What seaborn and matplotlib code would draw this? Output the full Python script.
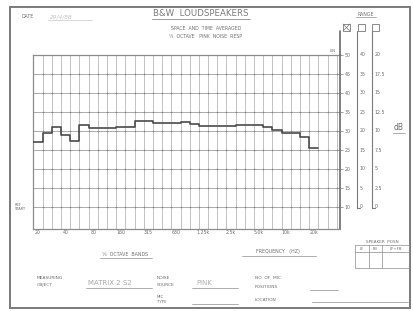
import matplotlib
matplotlib.use("Agg")
import numpy as np
import pandas as pd
import seaborn as sns
import matplotlib.pyplot as plt
import matplotlib.transforms as mtrans
from matplotlib.lines import Line2D
from matplotlib.patches import Rectangle

# ---------------- data ----------------
# one-third octave band levels (dB, read on the 50 dB range), 20 Hz ... 20 kHz
levels = [27.1, 29.4, 31.0, 28.9, 27.4, 31.7, 30.9, 30.9, 30.9, 31.1, 31.1,
          32.7, 32.7, 32.0, 32.0, 32.0, 32.4, 31.8, 31.3, 31.2, 31.2, 31.2,
          31.6, 31.6, 31.6, 31.0, 30.3, 29.6, 29.6, 28.5, 25.4]
n_cells = 33  # printed band columns on the sheet
freq_ticks = [0, 3, 6, 9, 12, 15, 18, 21, 24, 27, 30]
freq_labels = ['20', '40', '80', '160', '315', '630', '1.25k', '2.5k', '5.0k', '10k', '20k']
range50 = [50, 45, 40, 35, 30, 25, 20, 15, 10]
range40 = ['40', '35', '30', '25', '20', '15', '10', '5', '0']
range20 = ['20', '17.5', '15', '12.5', '10', '7.5', '5', '2.5', '0']

W, H = 414, 311
sns.set_style("white")
plt.rcParams['font.family'] = ['DejaVu Sans']
fig = plt.figure(figsize=(W / 100, H / 100), dpi=100)

INK = '#6e6e6e'
GRID = '#b8b8b8'


def fx(x):
    return x / W


def fy(y):
    return 1 - y / H


def txt(x, y, s, size=3.6, color=INK, **kw):
    fig.text(fx(x), fy(y), s, fontsize=size, color=color, va='center', **kw)


def line(xs, ys, lw=0.6, color='#8c8c8c'):
    fig.add_artist(Line2D([fx(v) for v in xs], [fy(v) for v in ys], lw=lw, color=color))


# page frame
fig.add_artist(Rectangle((fx(10), fy(308)), fx(400), (308 - 7) / H, fill=False,
                         lw=1.4, edgecolor='#7a7a7a', transform=fig.transFigure))

# ---------------- main grid axes ----------------
ax_l, ax_r, ax_t, ax_b = 33.5, 340, 55, 229
ax = fig.add_axes([fx(ax_l), fy(ax_b), (ax_r - ax_l) / W, (ax_b - ax_t) / H])
ax.set_facecolor('white')
ax.set_xlim(-0.5, -0.5 + (ax_r - ax_l) / 9.19)
ax.set_ylim(10 - 22 / 3.8, 50)

# vertical band lines and horizontal level lines
ax.vlines(np.arange(n_cells) + 0.5, 10 - 22 / 3.8, 50, color=GRID, lw=0.6, zorder=1)
ax.hlines(range50[1:], -0.5, n_cells, color='#ababab', lw=0.7, zorder=1)
xx, yy = np.meshgrid(np.arange(n_cells) + 0.5, range50[1:])
ax.scatter(xx.ravel(), yy.ravel(), marker='+', s=3, lw=0.5, color='#8a8a8a', zorder=1)

df = pd.DataFrame({'edge': np.arange(len(levels) + 1) - 0.5,
                   'level': levels + [levels[-1]]})
sns.lineplot(data=df, x='edge', y='level', drawstyle='steps-post',
             color='#4a4a4a', lw=1.2, ax=ax, zorder=3)

for s in ax.spines.values():
    s.set_color('#8c8c8c')
    s.set_linewidth(0.9)
ax.spines['right'].set_color('#6a6a6a')
ax.spines['right'].set_linewidth(1.2)

ax.set_xticks(freq_ticks)
ax.set_xticklabels(freq_labels)
ax.set_yticks(range50)
ax.set_yticklabels(range50)
ax.yaxis.tick_right()
ax.tick_params(axis='x', length=0, pad=1, labelsize=3.4, labelcolor=INK)
ax.tick_params(axis='y', length=2, width=0.5, pad=1.5, labelsize=3.4,
               labelcolor=INK, color='#777777', direction='out')
ax.set_xlabel('')
ax.set_ylabel('')

# extra range columns
bt = mtrans.blended_transform_factory(fig.transFigure, ax.transData)
for xcol, labs in ((357, range40), (372, range20)):
    line([xcol, xcol], [31, 208], lw=0.8, color='#7a7a7a')
    line([xcol, xcol + 3], [208, 208], lw=0.8, color='#7a7a7a')
    for v, lab in zip(range50, labs):
        ax.add_artist(Line2D([fx(xcol), fx(xcol + 2)], [v, v], transform=bt,
                             lw=0.5, color='#777777'))
        ax.text(fx(xcol + 2.5), v, lab, transform=bt, fontsize=3.4, color=INK,
                va='center', ha='left')
line([340, 340], [31, 55], lw=1.2, color='#6a6a6a')

# ---------------- sheet texts ----------------
txt(22, 17, 'DATE', 3.4)
txt(50, 17, '29/4/88', 4.2, color='#c4c4c4', style='italic')
line([48, 92], [20, 20], lw=0.5, color='#c8c8c8')

fig.text(fx(201), fy(14), 'B&W  LOUDSPEAKERS', fontsize=6.2, color='#7a7a7a',
         ha='center', va='center')
line([152, 250], [19, 19], lw=0.6)
txt(206, 29, 'SPACE  AND  TIME  AVERAGED', 3.3, ha='center')
txt(206, 37, '⅓  OCTAVE   PINK  NOISE  RESP', 3.3, ha='center')

txt(366, 14, 'RANGE', 3.4, ha='center')
line([356, 376], [17, 17], lw=0.5)
for bx in (343, 358, 372):
    fig.add_artist(Rectangle((fx(bx), fy(31)), 7 / W, 7 / H, fill=False, lw=0.6,
                             edgecolor='#777777', transform=fig.transFigure))
line([343, 350], [24, 31], lw=0.5, color='#777777')
line([343, 350], [31, 24], lw=0.5, color='#777777')
txt(333, 51, 'LIN', 2.8, ha='center')

txt(399, 128, 'dB', 5.5, ha='center')
line([393, 405], [133, 133], lw=0.5)

txt(15, 205, 'REF', 2.6)
txt(15, 209, 'START', 2.6)

txt(125, 254, '⅓  OCTAVE  BANDS', 3.4, ha='center')
line([100, 152], [258, 258], lw=0.5)
txt(278, 252, 'FREQUENCY   (HZ)', 3.4, ha='center')
line([242, 316], [256, 256], lw=0.5)

# speaker position table
txt(382, 242, 'SPEAKER  POSN', 3.0, ha='center')
line([355, 409], [245, 245], lw=0.5)
line([355, 409], [252, 252], lw=0.5)
line([355, 409], [268, 268], lw=0.5)
for xv in (355, 369, 382, 409):
    line([xv, xv], [245, 268], lw=0.5)
txt(362, 248.5, 'LF', 2.8, ha='center')
txt(375.5, 248.5, 'FB', 2.8, ha='center')
txt(395.5, 248.5, 'LF+FB', 2.8, ha='center')

txt(37, 278, 'MEASURING', 3.2)
txt(37, 285, 'OBJECT', 3.2)
txt(88, 283, 'MATRIX 2 S2', 5.0, color='#a8a8a8')
line([86, 152], [288, 288], lw=0.5)
txt(157, 278, 'NOISE', 3.2)
txt(157, 285, 'SOURCE', 3.2)
txt(196, 283, 'PINK', 5.0, color='#b0b0b0')
line([192, 238], [288, 288], lw=0.5)
txt(157, 297, 'MIC', 2.8)
txt(157, 302, 'TYPE', 2.8)
line([192, 238], [304, 304], lw=0.5)
txt(255, 278, 'NO  OF  MIC', 3.2)
txt(255, 287, 'POSITIONS', 3.2)
line([310, 338], [290, 290], lw=0.5)
txt(255, 300, 'LOCATION', 3.2)
line([312, 408], [302, 302], lw=0.5)

fig.savefig('out.png', dpi=100, facecolor='white')
